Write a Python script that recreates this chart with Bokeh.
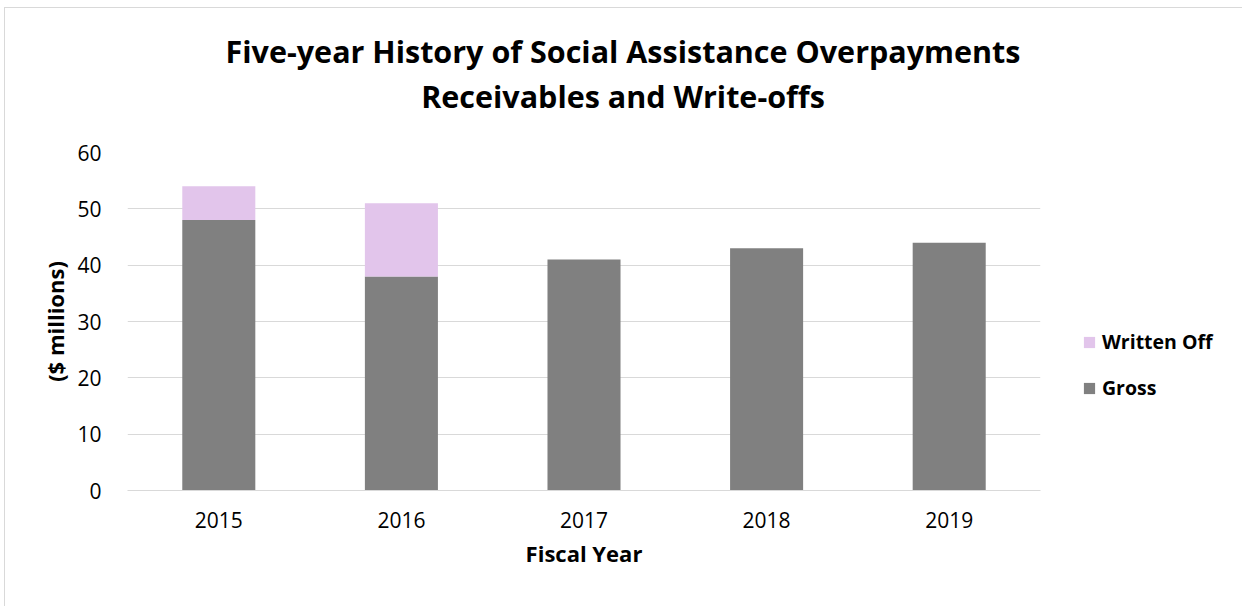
from bokeh.plotting import figure
from bokeh.models import ColumnDataSource, Legend, LegendItem, Div, FactorRange, SingleIntervalTicker
from bokeh.layouts import column
from bokeh.embed import file_html
from bokeh.resources import INLINE

years = ["2015", "2016", "2017", "2018", "2019"]
gross = [48, 38, 41, 43, 44]
written_off = [6, 13, 0, 0, 0]
series = ["Gross", "Written Off"]
colors = ["#808080", "#E2C5EB"]
title_lines = ["Five-year History of Social Assistance Overpayments", "Receivables and Write-offs"]

FONT = "Open Sans"

src = ColumnDataSource(dict(year=years, Gross=gross, **{"Written Off": written_off}))

p = figure(x_range=FactorRange(*years), y_range=(0, 60),
           frame_width=913, frame_height=338,
           output_backend="svg", toolbar_location=None,
           min_border_left=122, min_border_right=201, min_border_top=44, min_border_bottom=116)
p.margin = 0

rs = p.vbar_stack(series, x="year", width=0.4, color=colors, line_color=None, source=src)

p.outline_line_color = None
p.background_fill_color = "white"
p.border_fill_color = "white"

p.xgrid.grid_line_color = None
p.ygrid.grid_line_color = "#D9D9D9"
p.ygrid.grid_line_width = 1
p.yaxis.ticker = SingleIntervalTicker(interval=10)

p.yaxis.axis_line_color = None
p.yaxis.major_tick_line_color = None
p.yaxis.minor_tick_line_color = None
p.xaxis.axis_line_color = "#D9D9D9"
p.xaxis.major_tick_line_color = None
p.xaxis.minor_tick_line_color = None

for ax in (p.xaxis[0], p.yaxis[0]):
    ax.major_label_text_font = FONT
    ax.major_label_text_font_size = "21px"
    ax.major_label_text_color = "#000000"
    ax.axis_label_text_font = FONT
    ax.axis_label_text_font_style = "bold"
    ax.axis_label_text_font_size = "22px"
    ax.axis_label_text_color = "#000000"

p.xaxis.axis_label = "Fiscal Year"
p.yaxis.axis_label = "($ millions)"
p.xaxis.major_label_standoff = 15
p.yaxis.major_label_standoff = 20
p.xaxis.axis_label_standoff = 7
p.yaxis.axis_label_standoff = 4

legend = Legend(items=[LegendItem(label="Written Off", renderers=[rs[1]]),
                       LegendItem(label="Gross", renderers=[rs[0]])],
                location=(42, 89), orientation="vertical")
legend.border_line_color = None
legend.background_fill_alpha = 0
legend.padding = 0
legend.margin = 0
legend.spacing = 19
legend.glyph_width = 14
legend.glyph_height = 14
legend.label_height = 25
legend.label_standoff = 6
legend.label_text_font = FONT
legend.label_text_font_style = "bold"
legend.label_text_font_size = "19.5px"
legend.label_text_color = "#000000"
legend.label_text_baseline = "middle"
p.add_layout(legend, "right")

title_html = ("<div style=\"font-family:'Open Sans';font-weight:bold;font-size:30.5px;"
              "line-height:45px;text-align:center;color:#000;padding-top:21px;width:1236px\">"
              + "<br>".join(title_lines) + "</div>")
title_div = Div(text=title_html, width=1236, height=100, margin=0)

layout = column(title_div, p, margin=(7, 0, 0, 4))
layout.styles = {"border-top": "1px solid #D9D9D9", "border-left": "1px solid #D9D9D9",
                 "border-right": "1px solid #D9D9D9", "background-color": "white"}

open("out.html", "w").write(file_html(layout, INLINE))
